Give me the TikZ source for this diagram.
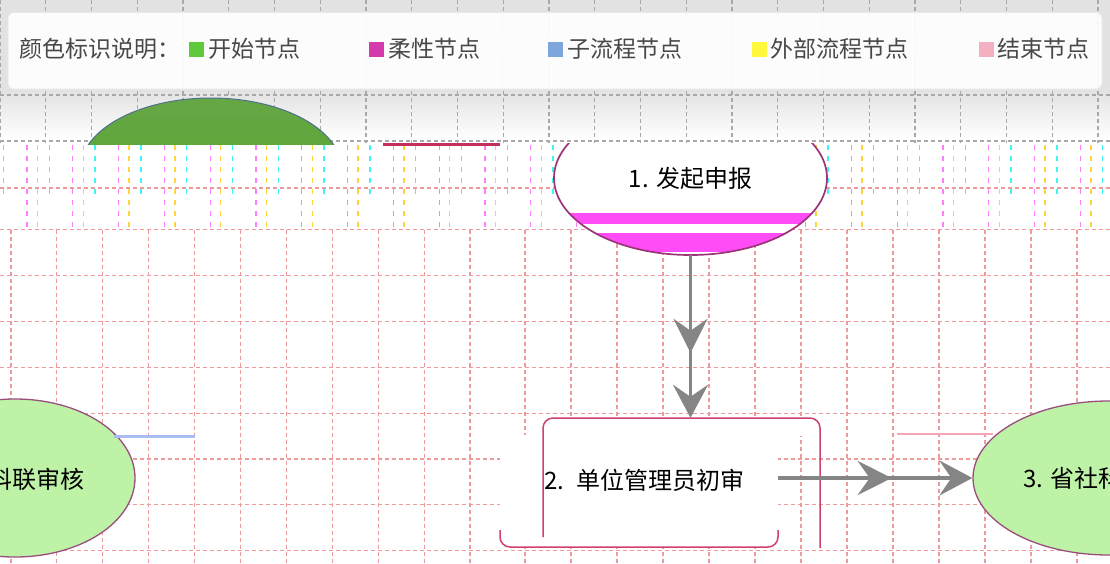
\documentclass[tikz,border=0pt]{standalone}
\usepackage{fontspec}
\setmainfont{Noto Sans CJK SC}
\usetikzlibrary{shapes.geometric,arrows.meta,decorations.markings}
\definecolor{bggray}{HTML}{E2E2E2}
\definecolor{gridgray}{HTML}{A8A8A8}
\definecolor{gridsalmon}{HTML}{EE9A9A}
\definecolor{gpink}{HTML}{FF7DFF}
\definecolor{gyellow}{HTML}{FFD33A}
\definecolor{gcyan}{HTML}{3DF5F5}
\definecolor{startgreen}{HTML}{50A326}
\definecolor{starttop}{HTML}{66A746}
\definecolor{startedge}{HTML}{4F6F8F}
\definecolor{nodegreen}{HTML}{BEF2A6}
\definecolor{nodeedge}{HTML}{9A4E7E}
\definecolor{ellipseedge}{HTML}{9C3578}
\definecolor{stripe}{HTML}{FF4CF6}
\definecolor{boxedge}{HTML}{D0406E}
\definecolor{arrowgray}{HTML}{858585}
\definecolor{legtext}{HTML}{484848}
\definecolor{lgreen}{HTML}{5FC93B}
\definecolor{lmag}{HTML}{D33AAE}
\definecolor{lblue}{HTML}{7CA6DC}
\definecolor{lyellow}{HTML}{FFF83C}
\definecolor{lpink}{HTML}{F4AFC1}
\definecolor{strayred}{HTML}{C2305C}
\definecolor{straypink}{HTML}{F2A6B6}
\definecolor{strayblue}{HTML}{A9BDF2}
\tikzset{
  gridline/.style={line width=1.1pt, dash pattern=on 4pt off 3pt},
  glitchdash/.style={line width=1.3pt, dash pattern=on 5pt off 6pt},
  legsq/.style={minimum size=15pt, inner sep=0pt, draw=none, anchor=west},
  legtxt/.style={anchor=west, inner sep=0pt, text=legtext, font=\fontsize{23}{27}\selectfont},
  nodetxt/.style={inner sep=0pt, text=black, font=\fontsize{24}{28}\selectfont},
  greenell/.style={ellipse, fill=nodegreen, draw=nodeedge, line width=1.3pt, inner sep=0pt},
  flowarrow/.style={draw=arrowgray, line width=3.5pt,
    -{Stealth[length=33pt,width=35pt,inset=12pt]},
    decoration={markings, mark=at position #1 with {\arrow{Stealth[length=34pt,width=34pt,inset=12pt]}}},
    postaction=decorate},
}
\begin{document}
\begin{tikzpicture}[x=1pt,y=-1pt]
\useasboundingbox (0,0) rectangle (1110,563);
\fill[white] (0,0) rectangle (1110,563);
\fill[bggray] (0,0) rectangle (1110,90);
\shade[top color=bggray,bottom color=white] (0,89.5) rectangle (1110,140);

% grid, top zone
\begin{scope}
  \clip (0,0) rectangle (1110,143);
  \foreach \k in {0,...,24} \draw[gridline,gridgray] ({45.75*\k},0) -- ({45.75*\k},143);
  \foreach \y in {95,141} \draw[gridline,gridgray] (0,\y) -- (1110,\y);
\end{scope}

% glitch band
\draw[gridline,gridsalmon] (0,188) -- (1110,188);
\foreach \k in {0,...,24} {
  \draw[glitchdash,gpink] ({27+45.8*\k},145) -- ({27+45.8*\k},228);
  \draw[glitchdash,gyellow] ({37.5+45.8*\k},145) -- ({37.5+45.8*\k},228);
  \draw[glitchdash,gcyan] ({3.5+45.8*\k},145) -- ({3.5+45.8*\k},196);
}

% grid, lower zone
\foreach \k in {0,...,10} \draw[gridline,gridsalmon] ({11+45.9*\k},229.5) -- ({11+45.9*\k},563);
\foreach \k in {0,...,12} \draw[gridline,gridsalmon] ({525+46*\k},229.5) -- ({525+46*\k},563);
\foreach \y in {229.5,275.4,321.3,367.2,413.1,459,504.9,550.8} \draw[gridline,gridsalmon] (0,\y) -- (1110,\y);

% legend panel
\fill[white, fill opacity=0.92, rounded corners=6pt] (8,12.5) rectangle (1102,89);
\draw[gray!18, line width=0.6pt, rounded corners=6pt] (8,12.5) rectangle (1102,89);
\node[legtxt] (lt) at (19,49) {颜色标识说明：};
\node[legsq, fill=lgreen] (sq1) at (189,49) {};
\node[legtxt] (t1) at (208,49) {开始节点};
\node[legsq, fill=lmag] (sq2) at (369,49) {};
\node[legtxt] (t2) at (388,49) {柔性节点};
\node[legsq, fill=lblue] (sq3) at (548,49) {};
\node[legtxt] (t3) at (567,49) {子流程节点};
\node[legsq, fill=lyellow] (sq4) at (752,49) {};
\node[legtxt] (t4) at (770,49) {外部流程节点};
\node[legsq, fill=lpink] (sq5) at (979,49) {};
\node[legtxt] (t5) at (997,49) {结束节点};

% stray lines
\draw[strayred, line width=2.5pt] (383,144.5) -- (500,144.5);
\draw[straypink, line width=2pt] (897,434) -- (993,434);

% start node (clipped)
\begin{scope}
  \clip (0,90) rectangle (1110,144);
  \node[ellipse, minimum width=262pt, minimum height=144pt, top color=starttop, bottom color=startgreen, draw=startedge, line width=1pt, inner sep=0pt] (start) at (211,170) {};
\end{scope}

% node 1
\begin{scope}
  \clip (0,143) rectangle (1110,563);
  \node[ellipse, minimum width=273pt, minimum height=154pt, fill=white, inner sep=0pt, nodetxt] (n1) at (690.5,178) {1. 发起申报};
  \begin{scope}
    \clip (690.5,178) ellipse [x radius=136.5pt, y radius=77pt];
    \fill[stripe] (540,213) rectangle (840,223.5);
    \fill[stripe] (540,233) rectangle (840,252);
  \end{scope}
  \draw[ellipseedge, line width=1.7pt] (690.5,178) ellipse [x radius=136.5pt, y radius=77pt];
\end{scope}

% node 2 (glitched rounded box)
\fill[white] (552,418) rectangle (811,436);
\fill[white] (543,427) rectangle (820,436);
\fill[white] (552,427) circle [radius=9pt];
\fill[white] (811,427) circle [radius=9pt];
\fill[white] (500,435) rectangle (778,538);
\fill[white] (509,435) rectangle (769,547);
\fill[white] (509,538) circle [radius=9pt];
\fill[white] (769,538) circle [radius=9pt];
\draw[boxedge, line width=1.5pt, rounded corners=10pt] (543,537) -- (543,418) -- (820,418) -- (820,548);
\draw[boxedge, line width=1.5pt, rounded corners=10pt] (500,530) -- (500,547) -- (778,547) -- (778,530);
\node[nodetxt, minimum height=124pt, text width=275pt, align=left] (n2) at (681.5,480) {2. 单位管理员初审};

% node 3 and left node
\node[greenell, minimum width=272pt, minimum height=154pt] (n3) at (1109,478) {};
\node[nodetxt, anchor=west] (n3t) at (1023,478) {3. 省社科};
\node[greenell, minimum width=240pt, minimum height=158pt] (n4) at (15,478) {};
\node[nodetxt, anchor=east] (n4t) at (85,479) {科联审核};
\draw[strayblue, line width=3pt] (114,436) -- (195,436);

% connectors
\draw[flowarrow=0.6] (n1.south) -- (n1.south |- n2.north);
\coordinate (n2out) at (778,478);
\draw[flowarrow=0.585] (n2out) -- (n3.west);
\end{tikzpicture}
\end{document}
